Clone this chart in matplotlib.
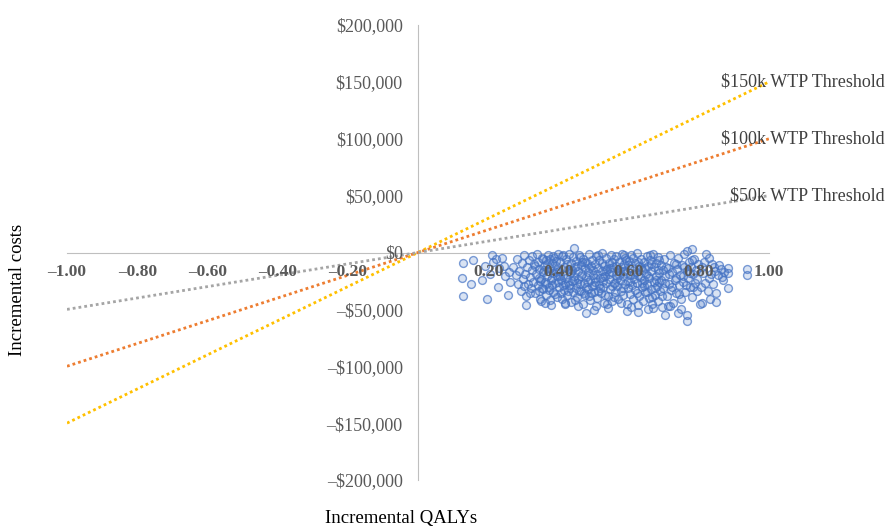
import numpy as np
import matplotlib.pyplot as plt

plt.rcParams['font.family'] = ['Liberation Serif', 'DejaVu Serif']

# willingness-to-pay thresholds ($ per QALY)
wtp_values = [150000, 100000, 50000]
wtp_labels = ["$150k WTP Threshold", "$100k WTP Threshold", "$50k WTP Threshold"]
wtp_colors = ["#FFC000", "#ED7D31", "#A5A5A5"]
wtp_range = [-1.0, 1.0]

# bootstrap replicates: incremental QALYs and incremental costs ($ thousands)
inc_qaly = [
    0.127, 0.158, 0.124, 0.150, 0.129, 0.197, 0.181, 0.210, 0.215, 0.240,
    0.257, 0.262, 0.230, 0.205, 0.248, 0.228, 0.190, 0.245, 0.260, 0.222,
    0.308, 0.479, 0.445, 0.596, 0.628, 0.670, 0.704, 0.742, 0.767, 0.767,
    0.718, 0.803, 0.849, 0.884, 0.884, 0.884, 0.936, 0.936, 0.780, 0.767,
    0.820, 0.837, 0.808, 0.540, 0.455, 0.500, 0.655, 0.420, 0.380, 0.350,
    0.845, 0.855, 0.862, 0.830, 0.870, 0.815, 0.840, 0.825, 0.858, 0.812,
    0.833, 0.805, 0.828, 0.850, 0.865, 0.818, 0.842, 0.808, 0.835, 0.872,
    0.272, 0.278, 0.281, 0.286, 0.289, 0.293, 0.296, 0.299, 0.302, 0.305,
    0.308, 0.311, 0.314, 0.316, 0.319, 0.321, 0.324, 0.326, 0.329, 0.331,
    0.333, 0.336, 0.338, 0.341, 0.343, 0.345, 0.348, 0.350, 0.352, 0.355,
    0.357, 0.359, 0.361, 0.364, 0.366, 0.368, 0.370, 0.373, 0.375, 0.377,
    0.379, 0.382, 0.384, 0.386, 0.388, 0.391, 0.393, 0.395, 0.397, 0.399,
    0.344, 0.356, 0.362, 0.371, 0.381, 0.389, 0.396, 0.353, 0.367, 0.385,
    0.401, 0.403, 0.405, 0.407, 0.409, 0.411, 0.413, 0.415, 0.417, 0.419,
    0.421, 0.423, 0.425, 0.427, 0.429, 0.431, 0.433, 0.435, 0.437, 0.439,
    0.441, 0.443, 0.445, 0.447, 0.449, 0.451, 0.453, 0.455, 0.457, 0.459,
    0.461, 0.463, 0.465, 0.467, 0.469, 0.471, 0.473, 0.475, 0.477, 0.479,
    0.481, 0.483, 0.485, 0.487, 0.489, 0.491, 0.493, 0.495, 0.497, 0.499,
    0.406, 0.418, 0.428, 0.438, 0.448, 0.458, 0.468, 0.478, 0.488, 0.498,
    0.501, 0.503, 0.505, 0.507, 0.509, 0.511, 0.513, 0.515, 0.517, 0.519,
    0.521, 0.523, 0.525, 0.527, 0.529, 0.531, 0.533, 0.535, 0.537, 0.539,
    0.541, 0.543, 0.545, 0.547, 0.549, 0.551, 0.553, 0.555, 0.557, 0.559,
    0.561, 0.563, 0.565, 0.567, 0.569, 0.571, 0.573, 0.575, 0.577, 0.579,
    0.581, 0.583, 0.585, 0.587, 0.589, 0.591, 0.593, 0.595, 0.597, 0.599,
    0.508, 0.518, 0.528, 0.538, 0.548, 0.558, 0.568, 0.578, 0.588, 0.598,
    0.601, 0.603, 0.605, 0.607, 0.609, 0.611, 0.613, 0.615, 0.617, 0.619,
    0.621, 0.623, 0.625, 0.627, 0.629, 0.631, 0.633, 0.635, 0.637, 0.639,
    0.641, 0.643, 0.645, 0.647, 0.649, 0.651, 0.653, 0.655, 0.657, 0.659,
    0.661, 0.663, 0.665, 0.667, 0.669, 0.671, 0.673, 0.675, 0.677, 0.679,
    0.681, 0.683, 0.685, 0.687, 0.689, 0.691, 0.693, 0.695, 0.697, 0.699,
    0.606, 0.626, 0.646, 0.666, 0.686,
    0.702, 0.705, 0.708, 0.711, 0.714, 0.717, 0.720, 0.723, 0.726, 0.729,
    0.732, 0.735, 0.738, 0.741, 0.744, 0.747, 0.750, 0.753, 0.756, 0.759,
    0.762, 0.765, 0.768, 0.771, 0.774, 0.777, 0.780, 0.783, 0.786, 0.789,
    0.792, 0.795, 0.798, 0.712, 0.748,
    0.302, 0.318, 0.334, 0.347, 0.358, 0.372, 0.383, 0.392, 0.404, 0.414,
    0.424, 0.434, 0.444, 0.454, 0.464, 0.474, 0.484, 0.494, 0.504, 0.514,
    0.524, 0.534, 0.544, 0.554, 0.564, 0.574, 0.584, 0.594, 0.604, 0.614,
    0.624, 0.634, 0.644, 0.654, 0.664, 0.674, 0.684, 0.694, 0.704, 0.714,
    0.724, 0.734, 0.744, 0.754, 0.764, 0.774, 0.784, 0.794, 0.412, 0.436,
    0.462, 0.486, 0.512, 0.536, 0.562, 0.586, 0.612, 0.638, 0.662, 0.688,
    0.398, 0.426, 0.452, 0.476, 0.502, 0.526, 0.552, 0.576, 0.602, 0.628,
    0.652, 0.678, 0.706, 0.736, 0.758, 0.782, 0.366, 0.376, 0.392, 0.346,
]
inc_cost_k = [
    -9.6, -6.2, -22.2, -27.8, -38.0, -40.5, -24.6, -2.6, -8.5, -4.7,
    -37.8, -26.1, -14.0, -18.5, -21.0, -30.5, -12.0, -11.5, -17.0, -6.0,
    -46.3, -53.0, 4.1, -51.0, -52.5, -49.0, -54.8, -53.0, -54.8, -59.8,
    -46.6, -45.1, -43.7, -31.2, -13.8, -17.8, -14.3, -20.2, 3.2, 0.9,
    -1.1, -9.9, -44.0, -48.5, -47.0, -50.5, -50.0, -45.0, -46.5, -43.0,
    -16.0, -19.5, -14.8, -22.0, -24.5, -8.5, -28.0, -34.0, -11.0, -18.0,
    -40.5, -30.0, -4.5, -36.0, -21.5, -26.5, -13.0, -12.5, -19.0, -17.5,
    -12.5, -20.0, -5.5, -28.0, -16.0, -33.5, -9.0, -23.0, -2.0, -18.5,
    -38.5, -13.0, -27.5, -6.5, -21.5, -31.0, -15.0, -3.5, -25.5, -10.5,
    -35.5, -19.0, -1.5, -8.0, -29.0, -14.5, -40.5, -23.5, -4.5, -17.0,
    -32.5, -11.5, -26.0, -37.0, -7.0, -20.5, -2.5, -30.0, -14.0, -42.0,
    -24.0, -9.5, -18.0, -34.5, -5.0, -27.0, -12.0, -39.0, -21.0, -1.0,
    -22.5, -6.0, -44.0, -16.5, -28.5, -36.5, -15.5, -31.5, -10.5, -3.0,
    -30.5, -16.0, -8.5, -24.5, -41.0, -3.5, -19.5, -33.0, -12.5, -27.5,
    -6.0, -22.0, -37.5, -14.5, -1.5, -29.0, -18.0, -43.5, -9.5, -25.0,
    -35.0, -4.0, -20.5, -13.0, -31.5, -7.5, -39.5, -23.5, -16.5, -2.5,
    -28.0, -11.0, -34.0, -19.0, -45.0, -5.5, -26.5, -14.0, -37.0, -21.5,
    -9.0, -32.0, -17.5, -1.0, -41.5, -24.0, -12.0, -29.5, -6.5, -20.0,
    -35.5, -44.5, -26.0, -15.5, -42.0, -33.5, -8.0, -30.0, -38.5, -15.0,
    -34.5, -10.5, -25.5, -3.0, -18.5, -40.0, -13.5, -28.5, -7.0, -22.5,
    -36.0, -16.0, -0.5, -30.5, -11.5, -44.0, -20.5, -5.0, -26.5, -14.5,
    -38.0, -9.0, -23.0, -32.5, -2.0, -17.0, -42.5, -12.5, -27.0, -6.0,
    -35.0, -19.5, -3.5, -29.5, -15.0, -40.5, -8.5, -24.5, -33.5, -13.0,
    -1.5, -21.0, -37.5, -10.0, -28.0, -4.5, -18.0, -45.5, -25.0, -11.0,
    -47.0, -31.0, -21.5, -45.0, -14.0, -39.0, -22.5, -44.0, -16.5, -31.5,
    -7.5, -36.5, -20.0, -2.5, -29.0, -13.5, -41.0, -23.5, -9.0, -33.0,
    -17.0, -0.5, -26.5, -46.5, -12.0, -38.0, -21.5, -5.5, -30.5, -15.5,
    -43.0, -24.5, -8.0, -35.0, -19.0, -3.0, -27.5, -11.5, -40.0, -22.0,
    -6.5, -32.0, -16.5, -45.5, -1.5, -25.5, -13.0, -37.0, -20.5, -9.5,
    -29.5, -42.5, -4.0, -18.0, -34.0, -11.0, -24.0, -47.5, -15.0, -31.0,
    -47.5, -19.5, -14.0, -39.5, -26.0,
    -6.0, -21.0, -38.5, -13.5, -27.5, -2.5, -33.0, -17.5, -44.5, -9.0,
    -24.5, -36.0, -14.5, -4.5, -29.0, -19.5, -41.0, -11.0, -26.0, -1.0,
    -34.5, -16.0, -22.5, -8.0, -30.5, -13.0, -39.0, -19.0, -5.5, -26.5,
    -15.5, -33.5, -10.0, -47.0, -49.5,
    -29.5, -36.0, -12.0, -25.0, -15.5, -33.0, -22.0, -7.5, -21.0, -28.5,
    -10.0, -31.0, -24.0, -11.5, -21.0, -35.5, -25.5, -35.5, -22.0, -33.5,
    -9.5, -37.0, -18.5, -29.5, -12.0, -20.0, -31.0, -7.0, -25.5, -18.5,
    -35.5, -12.5, -29.5, -21.0, -10.0, -31.5, -15.0, -38.0, -27.0, -19.0,
    -30.0, -10.5, -36.5, -20.5, -28.5, -18.0, -30.0, -23.0, -2.0, -17.0,
    -4.0, -13.5, -2.5, -16.5, -26.5, -2.5, -4.5, -26.5, -2.5, -7.0,
    -26.0, -33.5, -27.0, -8.5, -29.0, -25.0, -8.0, -16.0, -14.0, -8.5,
    -35.0, -24.0, -13.0, -22.5, -12.5, -6.5, -28.0, -6.0, -17.5, -34.0,
]

x_ticks = np.arange(-1.0, 1.01, 0.2)
y_ticks = np.arange(-200000, 200001, 50000)


def fmt_qaly(v):
    if abs(v) < 1e-9:
        return ""
    s = "%.2f" % abs(v)
    return ("\u2013" + s) if v < 0 else s


def fmt_cost(v):
    s = "${:,.0f}".format(abs(v))
    return ("\u2013" + s) if v < 0 else s


fig = plt.figure(figsize=(8.87, 5.27), dpi=100)
ax = fig.add_axes([67 / 887, 47 / 527, 702 / 887, 455 / 527])

# threshold lines through the origin
for wtp, lab, col in zip(wtp_values, wtp_labels, wtp_colors):
    xs = np.array(wtp_range)
    ax.plot(xs, xs * wtp, linestyle=(0, (1, 1.1)), color=col, linewidth=2.0, zorder=2)
    ax.text(1.33, wtp, lab, ha="right", va="center", fontsize=13,
            color="#404040", clip_on=False)

costs = np.array(inc_cost_k) * 1000
ax.scatter(inc_qaly, costs, s=32, facecolor=(0.27, 0.45, 0.77, 0.2),
           edgecolor=(0.27, 0.45, 0.77, 0.7), linewidth=1.0, zorder=3)

ax.set_xlim(-1, 1)
ax.set_ylim(-200000, 200000)

for side in ["top", "right"]:
    ax.spines[side].set_visible(False)
ax.spines["left"].set_position("zero")
ax.spines["bottom"].set_position("zero")
ax.spines["left"].set_color("#BFBFBF")
ax.spines["bottom"].set_color("#BFBFBF")
ax.spines["left"].set_zorder(1)
ax.spines["bottom"].set_zorder(1)

ax.set_xticks(x_ticks)
ax.set_xticklabels([fmt_qaly(v) for v in x_ticks], fontweight="bold",
                   fontsize=12.5, color="#595959")
ax.set_yticks(y_ticks)
ax.set_yticklabels([fmt_cost(v) for v in y_ticks], fontsize=13, color="#595959")
ax.tick_params(axis="x", length=0, pad=8)
ax.tick_params(axis="y", length=0, pad=11)
# tick labels sit on top of the point cloud
ax.xaxis.set_zorder(5)
ax.yaxis.set_zorder(5)

fig.text(401 / 887, 9 / 527, "Incremental QALYs", ha="center", va="center",
         fontsize=13.5)
fig.text(18 / 887, 237 / 527, "Incremental costs", ha="center", va="center",
         rotation=90, fontsize=13.5)

fig.savefig("out.png", dpi=100)
